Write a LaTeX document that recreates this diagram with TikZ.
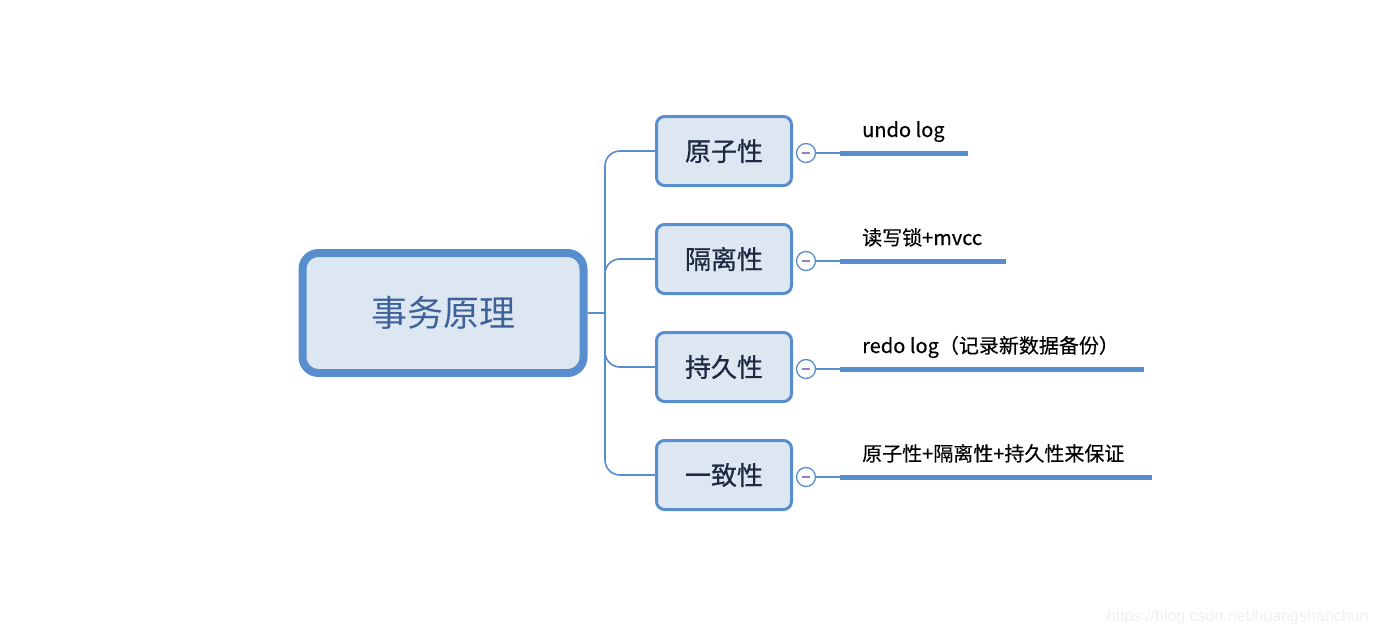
\documentclass[tikz,border=0pt]{standalone}
\usepackage{fontspec}
\setmainfont{Noto Sans CJK SC}
\newfontfamily\topicfont{Noto Sans CJK SC}[FakeBold=0.7]
\newfontfamily\leaffont{Noto Sans CJK SC}[FakeBold=0.3]
\newfontfamily\markfont{Liberation Sans}
\definecolor{mapblue}{RGB}{88,141,206}
\definecolor{mapfill}{RGB}{221,231,242}
\definecolor{roottext}{RGB}{62,98,152}
\definecolor{topictext}{RGB}{30,42,66}
\definecolor{minuscol}{RGB}{150,130,185}
\tikzset{
    root/.style={draw=mapblue, line width=8pt, fill=mapfill, rounded corners=16pt,
        minimum width=281pt, minimum height=120pt, text=roottext,
        font=\fontsize{36}{40}\selectfont},
    topic/.style={draw=mapblue, line width=3pt, fill=mapfill, rounded corners=8pt,
        minimum width=135pt, minimum height=69pt, text=topictext,
        font=\topicfont\fontsize{26}{30}\selectfont},
    fold/.style={circle, draw=mapblue, line width=1.3pt, fill=white, minimum size=19pt,
        inner sep=0pt, path picture={\draw[minuscol, line width=1.2pt]
            ([xshift=-4pt]path picture bounding box.center) --
            ([xshift=4pt]path picture bounding box.center);}},
    branch/.style={mapblue, line width=1.6pt, rounded corners=15pt},
    bar/.style={mapblue, line width=5pt},
    leaf/.style={anchor=base west, inner sep=0pt, font=\leaffont\fontsize{20}{24}\selectfont}
}
\begin{document}
\begin{tikzpicture}[x=1pt, y=-1pt]
                \useasboundingbox (0,0) rectangle (1378,634);
                % root and hub
                \node[root] (root) at (443,313) {事务原理};
                \coordinate (hub) at (605,313);
                \draw[branch] (root.east) -- (hub);

                % topics
                \node[topic] (atom) at (724,151) {原子性};
                \node[topic] (iso) at (724,259) {隔离性};
                \node[topic] (dur) at (724,367) {持久性};
                \node[topic] (cons) at (724,475) {一致性};
                \draw[branch] (hub) |- (atom.west);
                \draw[branch] (hub) |- (iso.west);
                \draw[branch] (hub) |- (dur.west);
                \draw[branch] (hub) |- (cons.west);

                % fold markers
                \node[fold] (fatom) at (806,153) {};
                \node[fold] (fiso) at (806,261) {};
                \node[fold] (fdur) at (806,369) {};
                \node[fold] (fcons) at (806,477) {};

                % leaves
                \coordinate (batom) at (840,153);
                \coordinate (biso) at (840,261);
                \coordinate (bdur) at (840,369);
                \coordinate (bcons) at (840,477);
                \coordinate (eatom) at (968,153);
                \coordinate (eiso) at (1006,261);
                \coordinate (edur) at (1144,369);
                \coordinate (econs) at (1152,477);
                \draw[branch] (fatom) -- (batom);
                \draw[branch] (fiso) -- (biso);
                \draw[branch] (fdur) -- (bdur);
                \draw[branch] (fcons) -- (bcons);
                \draw[bar] (batom) -- (eatom);
                \draw[bar] (biso) -- (eiso);
                \draw[bar] (bdur) -- (edur);
                \draw[bar] (bcons) -- (econs);
                \node[leaf] (latom) at (862,137) {undo log};
                \node[leaf] (liso) at (862,245) {读写锁+mvcc};
                \node[leaf] (ldur) at (862,353) {redo log（记录新数据备份）};
                \node[leaf] (lcons) at (862,461) {原子性+隔离性+持久性来保证};

                \node[anchor=east, text=black!6, font=\markfont\fontsize{16}{18}\selectfont] (mark) at (1372,617) {https://blog.csdn.net/huangshanchun};
\end{tikzpicture}
\end{document}
